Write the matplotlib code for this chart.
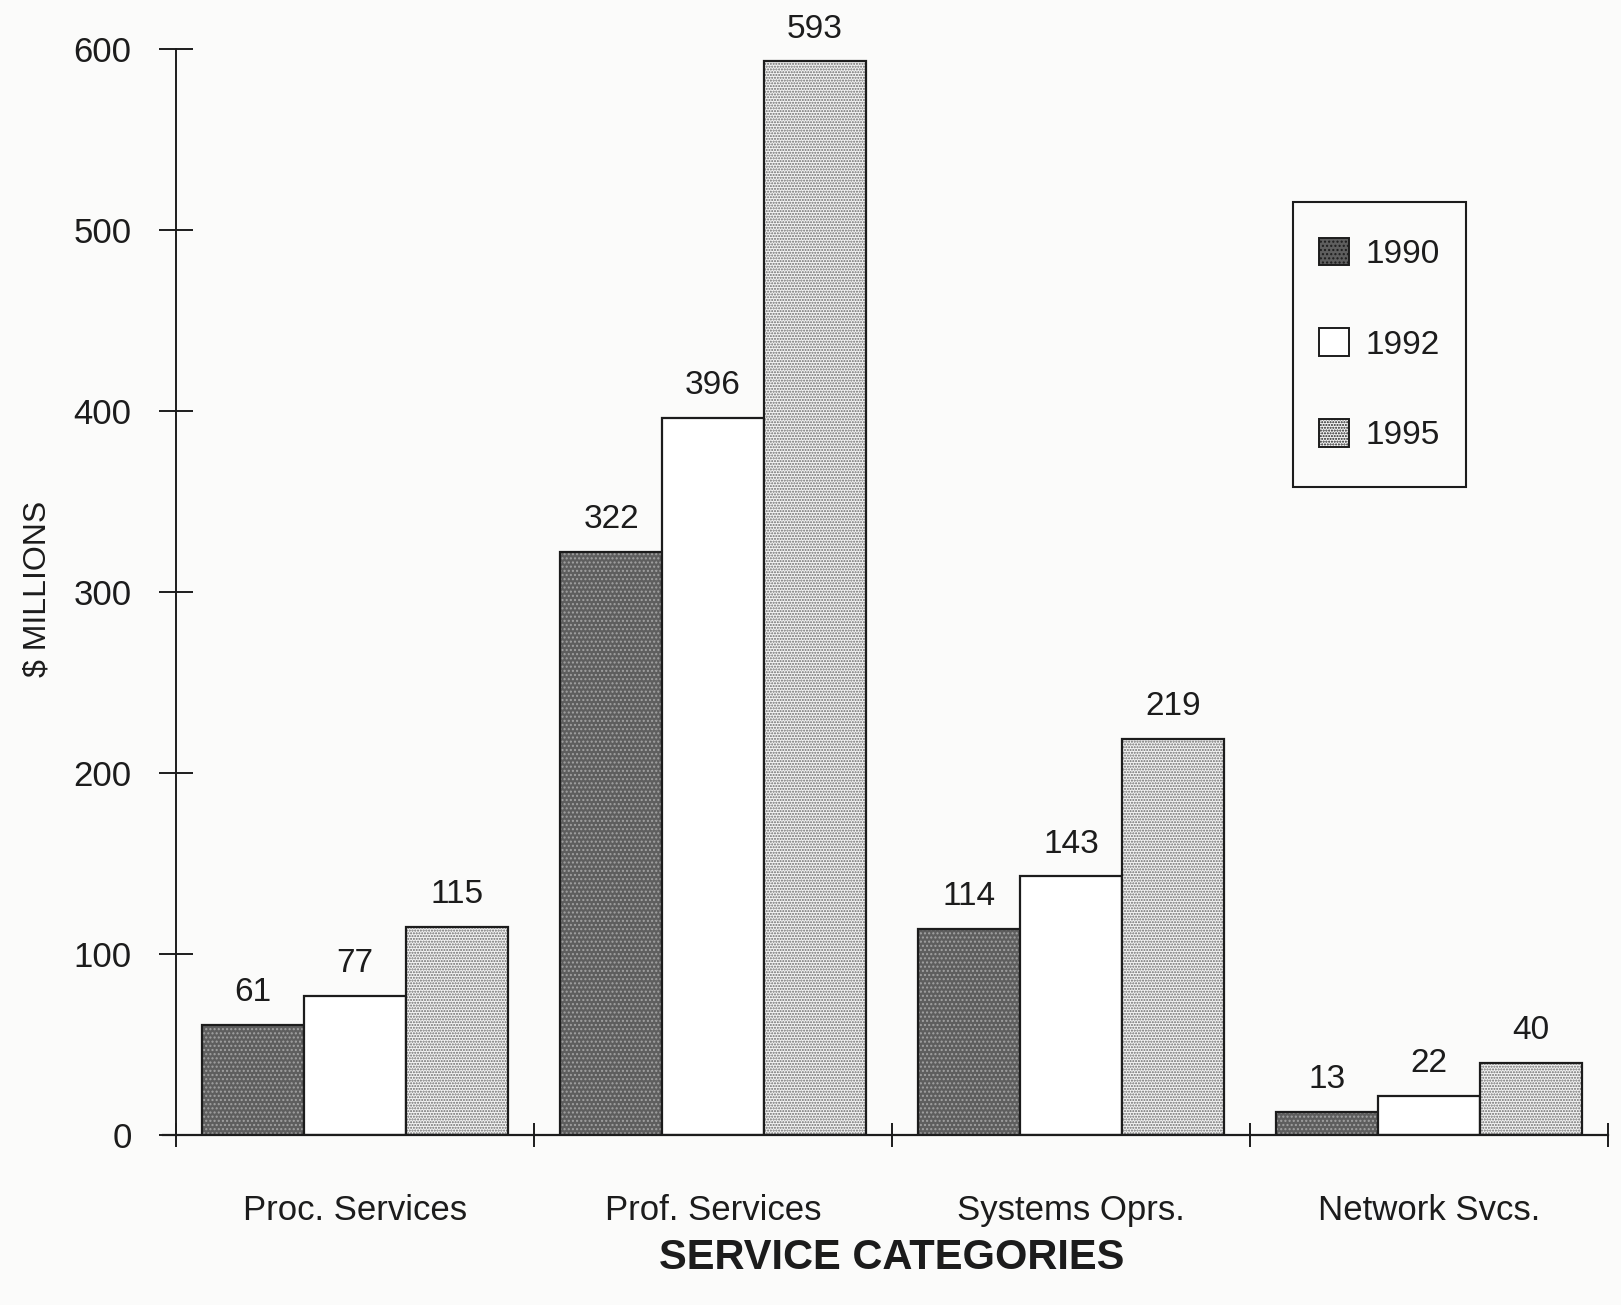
import numpy as np
import matplotlib.pyplot as plt
from matplotlib.patches import Patch, Rectangle

plt.rcParams['font.family'] = ['Liberation Sans', 'DejaVu Sans']

categories = ['Proc. Services', 'Prof. Services', 'Systems Oprs.', 'Network Svcs.']
years = ['1990', '1992', '1995']
v1990 = [61, 322, 114, 13]
v1992 = [77, 396, 143, 22]
v1995 = [115, 593, 219, 40]
yticks = [0, 100, 200, 300, 400, 500, 600]

# fill, hatch colour, hatch for each year
styles = [
    ('#5e5e5e', '#a2a2a2', '....'),
    ('white', 'white', None),
    ('#f4f4f4', '#6a6a6a', '......'),
]

fig = plt.figure(figsize=(16.21, 13.05), dpi=100, facecolor='#fbfbfa')
ax = fig.add_axes([0.1086, 0.130, 0.8834, 0.8328])
ax.set_facecolor('none')

x = np.arange(len(categories)) + 0.5
w = 0.285
ink = '#1c1c1c'

for k, vals in enumerate([v1990, v1992, v1995]):
    fc, hc, hatch = styles[k]
    pos = x + (k - 1) * w
    ax.bar(pos, vals, width=w, color=fc, edgecolor=hc, hatch=hatch, linewidth=0)
    ax.bar(pos, vals, width=w, fill=False, edgecolor=ink, linewidth=1.6)
    for px, v in zip(pos, vals):
        ax.annotate(str(v), (px, v), xytext=(0, 12), textcoords='offset points',
                    ha='center', va='bottom', fontsize=24, color=ink,
                    annotation_clip=False)

ax.set_xlim(0, 4)
ax.set_ylim(0, 600)

for s in ['top', 'right', 'bottom']:
    ax.spines[s].set_visible(False)
ax.spines['left'].set_color(ink)
ax.spines['left'].set_linewidth(1.4)
ax.plot([-0.009, 1.0], [0, 0], transform=ax.transAxes, color=ink,
        linewidth=1.6, clip_on=False)

ax.set_yticks(yticks)
ax.tick_params(axis='y', direction='inout', length=24, width=1.4, pad=20,
               labelsize=25, colors=ink)
ax.set_xticks([0, 1, 2, 3, 4])
ax.set_xticklabels([])
ax.tick_params(axis='x', which='major', direction='inout', length=17,
               width=1.4, colors=ink)
ax.set_xticks(x, minor=True)
ax.set_xticklabels(categories, minor=True)
ax.tick_params(axis='x', which='minor', length=0, pad=42, labelsize=25,
               colors=ink)

ax.set_xlabel('SERVICE CATEGORIES', fontsize=30, fontweight='bold',
              color=ink, labelpad=8)
fig.text(0.023, 0.549, '$ MILLIONS', rotation=90, ha='center', va='center',
         fontsize=23, color=ink)

# legend box drawn separately so its padding can differ per side
bx0, bx1, by0, by1 = 1293 / 1621, 1466 / 1621, 1 - 487 / 1305, 1 - 202 / 1305
fig.patches.append(Rectangle((bx0, by0), bx1 - bx0, by1 - by0,
                             transform=fig.transFigure, fill=False,
                             edgecolor=ink, linewidth=1.5))
handles = [Patch(facecolor=s[0], edgecolor=ink, hatch=s[2], linewidth=1.4)
           for s in styles]
leg = ax.legend(handles, years, loc='center',
                bbox_to_anchor=((bx0 + bx1) / 2, (by0 + by1) / 2),
                bbox_transform=fig.transFigure, fontsize=24, frameon=False,
                handlelength=0.9, handleheight=0.9, handletextpad=0.5,
                labelspacing=1.75, borderpad=0, borderaxespad=0)
for t in leg.get_texts():
    t.set_color(ink)

fig.savefig('out.png', dpi=100, facecolor=fig.get_facecolor())
